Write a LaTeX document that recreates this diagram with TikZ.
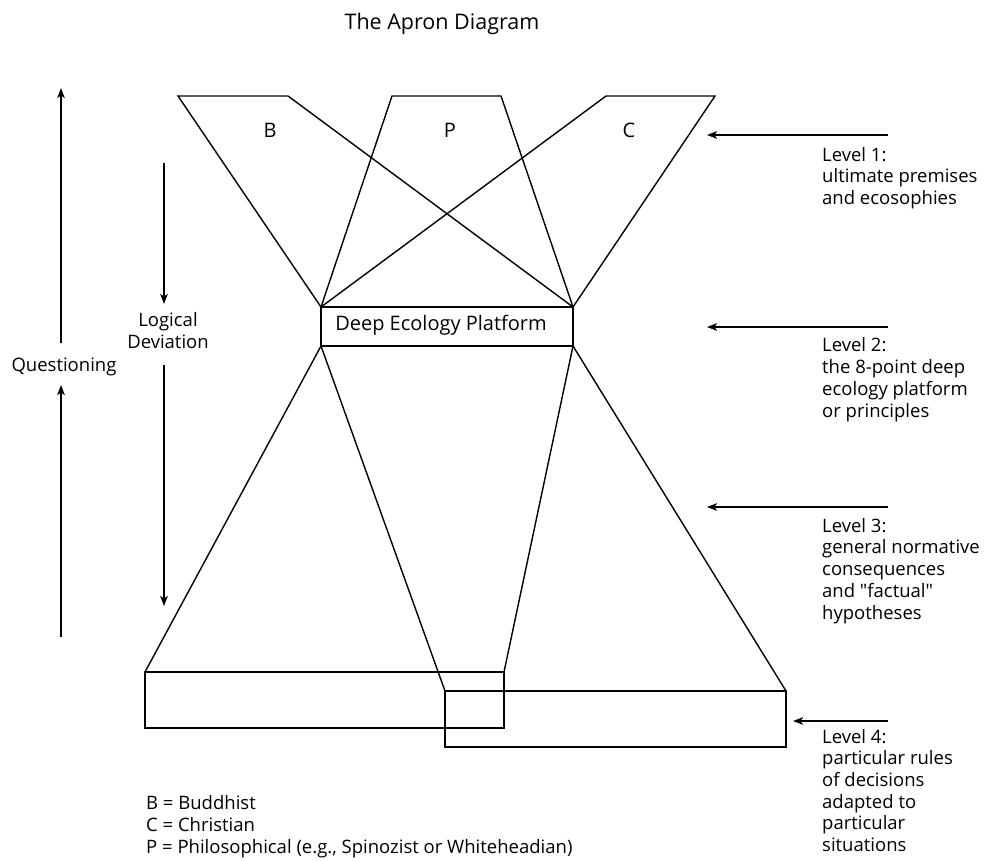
\documentclass[tikz,border=0pt]{standalone}
\usepackage{fontspec}
\setmainfont{Open Sans}[Ligatures=TeXOff]
\usetikzlibrary{arrows.meta}
\begin{document}
\begin{tikzpicture}[x=1pt,y=-1pt,
  fig/.style={line width=1.4pt, line join=miter},
  arr/.style={line width=1.8pt,-{Stealth[length=10pt,width=7.5pt,inset=2.5pt]}},
  lbl/.style={font=\fontsize{18.5}{21.7}\selectfont, inner sep=0pt, align=left, anchor=base west},
  big/.style={font=\fontsize{20}{22}\selectfont, inner sep=0pt, anchor=base},
]
\useasboundingbox (0,0) rectangle (984,860);
% title
\node[font=\fontsize{21.5}{24}\selectfont, inner sep=0pt, anchor=base] (title) at (442,29) {The Apron Diagram};
% top coordinates
\coordinate (b1) at (178,96); \coordinate (b2) at (288,96);
\coordinate (p1) at (392,96); \coordinate (p2) at (501,96);
\coordinate (c1) at (606,96); \coordinate (c2) at (715,96);
\coordinate (ptl) at (321,307); \coordinate (ptr) at (573,307);
\coordinate (pbl) at (321,346); \coordinate (pbr) at (573,346);
% lower boxes
\coordinate (l1) at (145,672); \coordinate (l2) at (504,672);
\coordinate (l3) at (504,728); \coordinate (l4) at (145,728);
\coordinate (r1) at (445,691); \coordinate (r2) at (786,691);
\coordinate (r3) at (786,747); \coordinate (r4) at (445,747);
% top trapezoids
\draw[fig] (ptl) -- (b1) -- (b2) -- (ptr);
\draw[fig] (ptl) -- (p1) -- (p2) -- (ptr);
\draw[fig] (ptl) -- (c1) -- (c2) -- (ptr);
\node[big] (lb) at (270,137) {B};
\node[big] (lp) at (450,137) {P};
\node[big] (lc) at (629,137) {C};
% platform
\draw[fig] (ptl) rectangle (pbr);
\node[font=\fontsize{20}{22}\selectfont, inner sep=0pt, anchor=base] (plat) at (441,330) {Deep Ecology Platform};
% lower
\draw[fig] (pbl) -- (l1);
\draw[fig] (pbr) -- (l2);
\draw[fig] (l1) -- (l2) -- (l3) -- (l4) -- cycle;
\draw[fig] (pbl) -- (r1);
\draw[fig] (pbr) -- (r2);
\draw[fig] (r1) -- (r2) -- (r3) -- (r4) -- cycle;
% left arrows
\coordinate (q0) at (61,88); \coordinate (q1) at (61,343);
\coordinate (q2) at (61,385); \coordinate (q3) at (61,637);
\draw[arr] (q1) -- (q0);
\draw[arr] (q3) -- (q2);
\node[font=\fontsize{18.5}{21}\selectfont, inner sep=0pt, anchor=base] (quest) at (64,371) {Questioning};
\coordinate (d0) at (164,163); \coordinate (d1) at (164,304);
\coordinate (d2) at (164,365); \coordinate (d3) at (164,606);
\draw[arr] (d0) -- (d1);
\draw[arr] (d2) -- (d3);
\node[font=\fontsize{18.5}{21.7}\selectfont, inner sep=0pt, anchor=base, align=center] (logic) at (168,348) {Logical\\Deviation};
% right arrows
\coordinate (a1s) at (888,135); \coordinate (a1e) at (707,135);
\coordinate (a2s) at (888,327); \coordinate (a2e) at (707,327);
\coordinate (a3s) at (888,507); \coordinate (a3e) at (707,507);
\coordinate (a4s) at (888,721); \coordinate (a4e) at (793,721);
\draw[arr] (a1s) -- (a1e);
\draw[arr] (a2s) -- (a2e);
\draw[arr] (a3s) -- (a3e);
\draw[arr] (a4s) -- (a4e);
\node[lbl] (lev1) at (822,204.4) {Level 1:\\ultimate premises\\and ecosophies};
\node[lbl] (lev2) at (822,417) {Level 2:\\the 8-point deep\\ecology platform\\or principles};
\node[lbl] (lev3) at (822,619) {Level 3:\\general normative\\consequences\\and "factual"\\hypotheses};
\node[lbl] (lev4) at (822,851.5) {Level 4:\\particular rules\\of decisions\\adapted to\\particular\\situations};
% legend
\node[lbl, font=\fontsize{18.5}{22}\selectfont] (legend) at (146,853) {B = Buddhist\\C = Christian\\P = Philosophical (e.g., Spinozist or Whiteheadian)};
\end{tikzpicture}
\end{document}
